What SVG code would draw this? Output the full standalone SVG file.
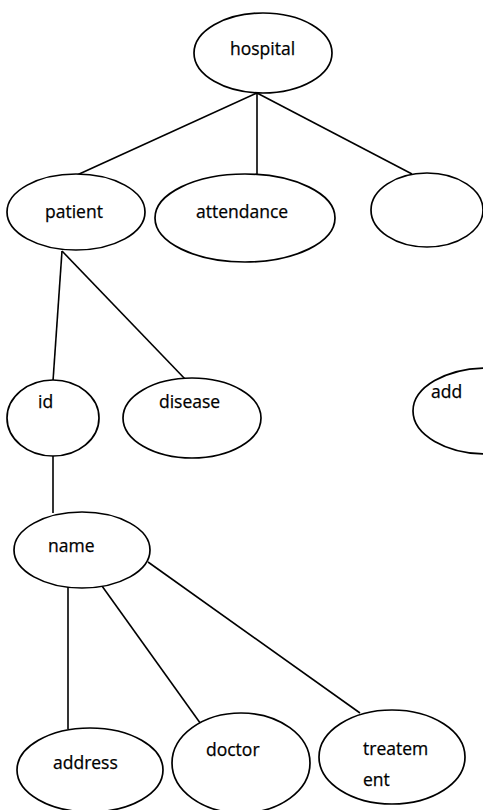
<svg xmlns="http://www.w3.org/2000/svg" width="483" height="810" viewBox="0 0 483 810">
<style>
.n ellipse{fill:#fff;stroke:#000;stroke-width:1.7}
text{font-family:"Open Sans","Liberation Sans",sans-serif;font-size:17.5px;fill:#000;stroke:#000;stroke-width:0.25}
#edges line{stroke:#000;stroke-width:1.6}
</style>
<rect width="483" height="810" fill="#fff"/>
<g id="edges">
<line x1="257" y1="93" x2="77" y2="175"/>
<line x1="257" y1="93" x2="257" y2="175"/>
<line x1="257" y1="93" x2="412" y2="174"/>
<line x1="62" y1="251" x2="53" y2="381"/>
<line x1="62" y1="251" x2="186" y2="380"/>
<line x1="53" y1="456" x2="53" y2="513"/>
<line x1="68" y1="587" x2="68" y2="729"/>
<line x1="102" y1="586" x2="203" y2="727"/>
<line x1="148" y1="562" x2="360" y2="713"/>
</g>
<g id="hospital" class="n"><ellipse cx="263" cy="53" rx="69" ry="40"/><text x="230" y="55">hospital</text></g>
<g id="patient" class="n"><ellipse cx="76" cy="212" rx="69" ry="38"/><text x="45" y="218">patient</text></g>
<g id="attendance" class="n"><ellipse cx="245" cy="218" rx="90" ry="44"/><text x="196" y="218">attendance</text></g>
<g id="empty" class="n"><ellipse cx="427" cy="210" rx="56" ry="37"/></g>
<g id="id" class="n"><ellipse cx="53" cy="418" rx="46" ry="38"/><text x="38" y="408">id</text></g>
<g id="disease" class="n"><ellipse cx="192" cy="418" rx="69" ry="40"/><text x="159" y="408">disease</text></g>
<g id="add" class="n"><ellipse cx="487" cy="411" rx="74" ry="43"/><text x="431" y="398">add</text></g>
<g id="name" class="n"><ellipse cx="82" cy="550" rx="68" ry="38"/><text x="48" y="552">name</text></g>
<g id="address" class="n"><ellipse cx="90" cy="770" rx="73" ry="42"/><text x="53" y="769">address</text></g>
<g id="doctor" class="n"><ellipse cx="241" cy="763" rx="69" ry="50"/><text x="206" y="756">doctor</text></g>
<g id="treatement" class="n"><ellipse cx="392" cy="757" rx="73" ry="47"/><text x="363" y="755">treatem</text><text x="363" y="786">ent</text></g>
</svg>
